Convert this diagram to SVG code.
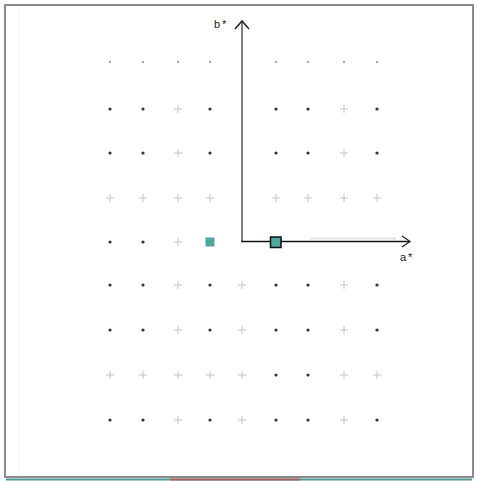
<svg xmlns="http://www.w3.org/2000/svg" width="477" height="481" viewBox="0 0 477 481">
<style>
.d{fill:#333}
.f{fill:#aaa}
.c{stroke:#c4c4c4;stroke-width:1}
.lbl{font-family:"Liberation Sans",Arial,sans-serif;font-size:11px;fill:#222;letter-spacing:2px}
</style>
<defs>
<g id="dot"><circle r="1.6" class="d"/></g>
<g id="fdot"><circle r="1.2" class="f"/></g>
<g id="cross"><path d="M-4 0H4M0 -4V4" class="c"/></g>
</defs>
<rect x="0" y="0" width="477" height="481" fill="#fff"/>
<rect x="5" y="5" width="468" height="472" fill="none" stroke="#8a8a8a" stroke-width="2"/>
<line x1="19" y1="8" x2="19" y2="474" stroke="#f0f0f0" stroke-width="1"/>
<line x1="6" y1="479.5" x2="472" y2="479.5" stroke="#4a9a94" stroke-width="2"/>
<line x1="170" y1="479.5" x2="300" y2="479.5" stroke="#b06060" stroke-width="2"/>
<g id="grid">
<use href="#fdot" x="110" y="62"/><use href="#fdot" x="143" y="62"/><use href="#fdot" x="178" y="62"/><use href="#fdot" x="210" y="62"/>
<use href="#fdot" x="276" y="62"/><use href="#fdot" x="308" y="62"/><use href="#fdot" x="344" y="62"/><use href="#fdot" x="377" y="62"/>
<use href="#dot" x="110" y="109"/><use href="#dot" x="143" y="109"/><use href="#cross" x="178" y="109"/><use href="#dot" x="210" y="109"/>
<use href="#dot" x="276" y="109"/><use href="#dot" x="308" y="109"/><use href="#cross" x="344" y="109"/><use href="#dot" x="377" y="109"/>
<use href="#dot" x="110" y="153"/><use href="#dot" x="143" y="153"/><use href="#cross" x="178" y="153"/><use href="#dot" x="210" y="153"/>
<use href="#dot" x="276" y="153"/><use href="#dot" x="308" y="153"/><use href="#cross" x="344" y="153"/><use href="#dot" x="377" y="153"/>
<use href="#cross" x="110" y="198"/><use href="#cross" x="143" y="198"/><use href="#cross" x="178" y="198"/><use href="#cross" x="210" y="198"/>
<use href="#cross" x="276" y="198"/><use href="#cross" x="308" y="198"/><use href="#cross" x="344" y="198"/><use href="#cross" x="377" y="198"/>
<use href="#dot" x="110" y="242"/><use href="#dot" x="143" y="242"/><use href="#cross" x="178" y="242"/>
<use href="#dot" x="110" y="285"/><use href="#dot" x="143" y="285"/><use href="#cross" x="178" y="285"/><use href="#dot" x="210" y="285"/><use href="#cross" x="242" y="285"/>
<use href="#dot" x="276" y="285"/><use href="#dot" x="308" y="285"/><use href="#cross" x="344" y="285"/><use href="#dot" x="377" y="285"/>
<use href="#dot" x="110" y="330"/><use href="#dot" x="143" y="330"/><use href="#cross" x="178" y="330"/><use href="#dot" x="210" y="330"/><use href="#cross" x="242" y="330"/>
<use href="#dot" x="276" y="330"/><use href="#dot" x="308" y="330"/><use href="#cross" x="344" y="330"/><use href="#dot" x="377" y="330"/>
<use href="#cross" x="110" y="375"/><use href="#cross" x="143" y="375"/><use href="#cross" x="178" y="375"/><use href="#cross" x="210" y="375"/><use href="#cross" x="242" y="375"/>
<use href="#dot" x="276" y="375"/><use href="#dot" x="308" y="375"/><use href="#cross" x="344" y="375"/><use href="#cross" x="377" y="375"/>
<use href="#dot" x="110" y="420"/><use href="#dot" x="143" y="420"/><use href="#cross" x="178" y="420"/><use href="#dot" x="210" y="420"/><use href="#cross" x="242" y="420"/>
<use href="#dot" x="276" y="420"/><use href="#dot" x="308" y="420"/><use href="#cross" x="344" y="420"/><use href="#dot" x="377" y="420"/>
</g>
<g id="axes">
<line x1="310" y1="238.5" x2="396" y2="238.5" stroke="#e2e2e2" stroke-width="2"/>
<line x1="242" y1="242" x2="242" y2="21" stroke="#555" stroke-width="1.5"/>
<path d="M235 29 L242 21 L249 29" fill="none" stroke="#222" stroke-width="1.5"/>
<line x1="241.3" y1="241.5" x2="410" y2="241.5" stroke="#111" stroke-width="1.5"/>
<path d="M402 236 L410 241.5 L402 247" fill="none" stroke="#222" stroke-width="1.2"/>
</g>
<g id="labels">
<text x="214" y="28" class="lbl">b*</text>
<text x="400" y="261" class="lbl">a*</text>
</g>
<g id="node-a">
<rect x="205.5" y="237.5" width="9" height="9" fill="#4fa8a0"/>
</g>
<g id="node-b">
<rect x="270.5" y="237" width="10.5" height="10.5" fill="#4fa8a0" stroke="#111" stroke-width="1.5"/>
</g>
</svg>
